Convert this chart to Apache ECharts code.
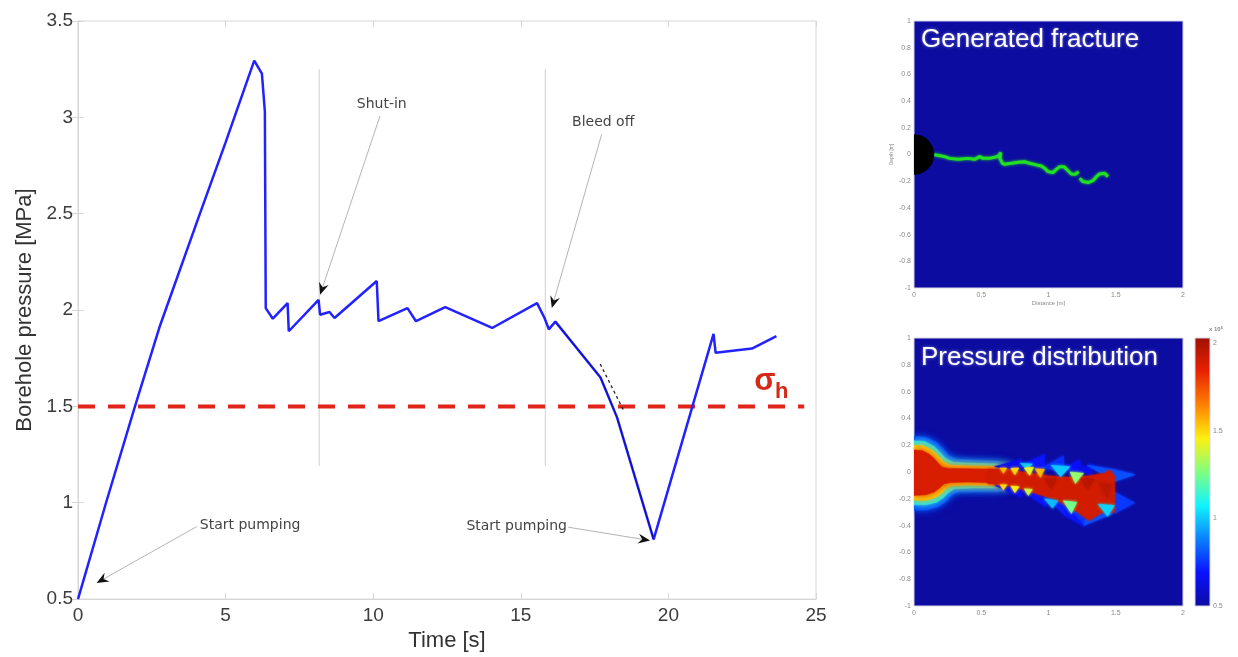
<!DOCTYPE html>
<html><head><meta charset="utf-8">
<script src="https://cdn.jsdelivr.net/npm/echarts/dist/echarts.min.js"></script>
<style>html,body{margin:0;padding:0;background:#fff}#c{width:1238px;height:657px}</style>
</head><body><div id="c"></div>
<script>
// ---------- main chart data ----------
const timeS = [0, 0.95, 1.93, 2.78, 4.13, 5.0, 5.97, 6.23, 6.33, 6.36, 6.6, 7.1, 7.14, 8.15, 8.2, 8.52, 8.69, 10.12, 10.18, 11.16, 11.45, 12.44, 14.03, 15.55, 15.8, 15.95, 16.17, 17.7, 18.26, 19.5, 21.53, 21.6, 22.83, 23.66];
const pressureMPa = [0.5, 1.0, 1.5, 1.92, 2.5, 2.87, 3.294, 3.227, 3.03, 2.01, 1.955, 2.036, 1.89, 2.053, 1.976, 1.99, 1.959, 2.151, 1.942, 2.01, 1.942, 2.015, 1.907, 2.036, 1.96, 1.90, 1.94, 1.65, 1.443, 0.81, 1.876, 1.778, 1.80, 1.865];
const bleedRange = [26, 30];               // indices of the darker bleed-off segment
const sigmaH = 1.5;
const sigmaHSpan = [0, 24.6];
const sigmaLabelPos = [23.27, 1.629];
const tangentT = [17.69, 18.5];
const tangentP = [1.72, 1.474];
const eventTimes = [8.17, 15.83];
const eventSpan = [1.19, 3.25];
const noteLabels = ['Shut-in', 'Bleed off', 'Start pumping', 'Start pumping'];
const noteTextT = [10.29, 17.79, 5.83, 14.86];
const noteTextP = [3.067, 2.976, 0.885, 0.88];
const noteFromT = [10.23, 17.74, 4.02, 16.61];
const noteFromP = [3.007, 2.912, 0.876, 0.873];
const noteToT = [8.2, 16.05, 0.63, 19.38];
const noteToP = [2.079, 2.01, 0.584, 0.804];

// ---------- fracture panel ----------
const fractureAX = [0.15, 0.166, 0.228, 0.265, 0.327, 0.402, 0.451, 0.488, 0.513, 0.563, 0.6, 0.63, 0.645, 0.64, 0.657, 0.674, 0.724, 0.773, 0.823, 0.86, 0.91, 0.947, 0.972, 0.996, 1.033, 1.058, 1.083, 1.115, 1.14, 1.17, 1.2, 1.224];
const fractureAY = [0.0, -0.004, -0.016, -0.029, -0.036, -0.029, -0.036, -0.016, -0.029, -0.029, -0.021, -0.011, 0.014, -0.03, -0.066, -0.073, -0.066, -0.058, -0.054, -0.066, -0.078, -0.086, -0.103, -0.128, -0.136, -0.111, -0.091, -0.091, -0.116, -0.146, -0.148, -0.128];
const fractureBX = [1.232, 1.256, 1.294, 1.33, 1.356, 1.38, 1.418, 1.442];
const fractureBY = [-0.178, -0.203, -0.21, -0.196, -0.166, -0.146, -0.141, -0.166];
const boreholeRadius = 0.15;

// ---------- pressure panel (values in 10^6 Pa) ----------
const smoothShapes = [
  [[0,0.265],[0.09,0.26],[0.17,0.22],[0.22,0.17],[0.26,0.12],[0.32,0.095],[0.45,0.09],[0.62,0.08],[0.72,0.06],[0.72,-0.13],[0.62,-0.145],[0.45,-0.148],[0.32,-0.15],[0.28,-0.175],[0.24,-0.22],[0.18,-0.26],[0.09,-0.285],[0,-0.285]],
  [[0,0.234],[0.08,0.228],[0.15,0.19],[0.2,0.14],[0.24,0.095],[0.3,0.07],[0.45,0.065],[0.62,0.06],[0.72,0.045],[0.72,-0.11],[0.62,-0.12],[0.45,-0.12],[0.3,-0.125],[0.26,-0.15],[0.22,-0.19],[0.17,-0.225],[0.09,-0.245],[0,-0.245]],
  [[0,0.2],[0.07,0.195],[0.13,0.165],[0.18,0.12],[0.22,0.075],[0.27,0.05],[0.4,0.045],[0.62,0.04],[0.72,0.035],[0.72,-0.1],[0.62,-0.1],[0.4,-0.097],[0.28,-0.1],[0.24,-0.12],[0.21,-0.155],[0.16,-0.19],[0.09,-0.21],[0,-0.21]],
  [[0,0.165],[0.06,0.16],[0.11,0.135],[0.15,0.1],[0.18,0.065],[0.21,0.035],[0.26,0.027],[0.4,0.025],[0.62,0.02],[0.72,0.015],[0.72,-0.085],[0.62,-0.08],[0.4,-0.075],[0.27,-0.078],[0.22,-0.09],[0.19,-0.12],[0.15,-0.15],[0.09,-0.17],[0,-0.175]]
];
const smoothValues = [0.78, 1.05, 1.5, 1.88];
const meshShapes = [
  [[0.6,0.04],[0.8,0.095],[0.8,0.01]],
  [[0.78,0.045],[0.97,0.13],[0.97,0.02]],
  [[0.95,0.03],[1.11,0.12],[1.12,0.0]],
  [[1.10,0.02],[1.23,0.09],[1.26,-0.01]],
  [[1.22,0.03],[1.33,0.055],[1.32,-0.03]],
  [[1.29,0.05],[1.49,0.02],[1.64,-0.02]],
  [[1.29,0.05],[1.64,-0.02],[1.49,-0.07]],
  [[1.49,-0.15],[1.64,-0.23],[1.49,-0.31]],
  [[0.6,-0.1],[0.80,-0.19],[0.82,-0.11]],
  [[0.78,-0.12],[0.98,-0.26],[1.0,-0.17]],
  [[0.97,-0.18],[1.13,-0.33],[1.15,-0.22]],
  [[1.12,-0.24],[1.26,-0.40],[1.30,-0.3]],
  [[1.26,-0.40],[1.48,-0.31],[1.30,-0.3]],
  [[1.12,-0.24],[1.13,-0.33],[1.26,-0.40]],
  [[0.55,0.02],[0.7,0.012],[0.85,-0.005],[1.0,-0.03],[1.15,-0.04],[1.3,-0.03],[1.42,-0.01],[1.455,0.015],[1.49,-0.03],[1.49,-0.3],[1.4,-0.3],[1.3,-0.36],[1.22,-0.3],[1.1,-0.23],[1.0,-0.19],[0.85,-0.14],[0.7,-0.1],[0.55,-0.085]],
  [[0.64,0.03],[0.69,0.03],[0.665,-0.01]],
  [[0.72,0.028],[0.78,0.03],[0.75,-0.02]],
  [[0.79,0.065],[0.88,0.06],[0.84,0.02]],
  [[0.82,0.03],[0.89,0.035],[0.86,-0.025]],
  [[0.9,0.025],[0.97,0.02],[0.94,-0.04]],
  [[1.02,0.05],[1.16,0.04],[1.09,-0.035]],
  [[1.16,0.0],[1.26,-0.01],[1.2,-0.085]],
  [[0.97,-0.05],[1.06,-0.05],[1.02,-0.13]],
  [[1.24,-0.05],[1.34,-0.055],[1.29,-0.13]],
  [[1.37,-0.08],[1.47,-0.09],[1.44,-0.2]],
  [[0.64,-0.095],[0.69,-0.095],[0.665,-0.135]],
  [[0.72,-0.105],[0.78,-0.11],[0.75,-0.155]],
  [[0.82,-0.125],[0.88,-0.13],[0.85,-0.175]],
  [[0.97,-0.2],[1.07,-0.215],[1.03,-0.27]],
  [[1.11,-0.215],[1.21,-0.225],[1.17,-0.31]],
  [[1.37,-0.24],[1.49,-0.25],[1.44,-0.33]]
];
const meshValues = [0.66,0.7,0.74,0.68,0.66,0.76,0.8,0.76,0.66,0.7,0.72,0.76,0.8,0.7, 1.9, 1.55,1.5,1.0,1.42,1.55,1.0,1.3,1.96,1.96,1.95,1.5,1.45,1.38,0.98,1.25,1.02];
const colorbarRange = [0.5, 2.03];
const jetColors = ['#0c0ca0','#0a10ff','#0a80ff','#10f4ff','#80ff80','#fff010','#ff8000','#e82200','#a01000'];

const FONT = "'Liberation Sans', Arial, sans-serif";
const chart = echarts.init(document.getElementById('c'));

const mainLabel = {color:'#3c3c3c', fontSize:19, fontFamily:FONT};
const frameLine = {color:'#d6d6d6', width:1};
const smallLabel = {color:'#8a8a8a', fontSize:7, fontFamily:FONT};

function polyItem(shapes, blur) {
  return function (params, api) {
    const pts = shapes[api.value(0)].map(p => api.coord(p));
    const col = api.visual('color');
    return {type:'polygon', shape:{points:pts}, style:{fill:col, stroke:col, lineWidth:0.5, shadowBlur:blur, shadowColor:col}};
  };
}

const option = {
  animation:false,
  backgroundColor:'#ffffff',
  title:[
    {text:'Generated fracture', left:921, top:27, padding:0, textStyle:{color:'#ffffff', fontSize:26, fontWeight:'normal', fontFamily:FONT, textShadowColor:'rgba(255,255,255,0.5)', textShadowBlur:3}},
    {text:'Pressure distribution', left:921, top:345, padding:0, textStyle:{color:'#ffffff', fontSize:26, fontWeight:'normal', fontFamily:FONT, textShadowColor:'rgba(255,255,255,0.5)', textShadowBlur:3}},
    {text:'x 10{s|6}', left:1209, top:326, padding:0, textStyle:{color:'#8a8a8a', fontSize:6, fontFamily:FONT, rich:{s:{fontSize:4, verticalAlign:'top', color:'#8a8a8a'}}}}
  ],
  grid:[
    {left:78, top:21, width:738, height:582, show:true, borderColor:'#d6d6d6', borderWidth:1, backgroundColor:'transparent'},
    {left:914, top:21, width:269, height:267, show:true, borderColor:'#d4d4ec', borderWidth:1, backgroundColor:'#0c0ca0'},
    {left:914, top:338, width:269, height:268, show:true, borderColor:'#d4d4ec', borderWidth:1, backgroundColor:'#0c0ca0'},
    {left:1195, top:338, width:15, height:268, show:false}
  ],
  xAxis:[
    {gridIndex:0, type:'value', min:0, max:25, interval:5, name:'Time [s]', nameLocation:'middle', nameGap:30,
     nameTextStyle:{color:'#333', fontSize:22, fontFamily:FONT},
     axisLine:{lineStyle:frameLine}, axisTick:{inside:true, length:6, lineStyle:frameLine},
     axisLabel:Object.assign({margin:7}, mainLabel), splitLine:{show:false}},
    {gridIndex:0, type:'value', min:0, max:25, interval:5, position:'top',
     axisLine:{show:false}, axisTick:{inside:true, length:6, lineStyle:frameLine}, axisLabel:{show:false}, splitLine:{show:false}},
    {gridIndex:1, type:'value', min:0, max:2, interval:0.5, name:'Distance [m]', nameLocation:'middle', nameGap:12,
     nameTextStyle:{color:'#8a8a8a', fontSize:6, fontFamily:FONT},
     axisLine:{show:false}, axisTick:{show:false}, axisLabel:Object.assign({margin:4}, smallLabel), splitLine:{show:false}},
    {gridIndex:2, type:'value', min:0, max:2, interval:0.5,
     axisLine:{show:false}, axisTick:{show:false}, axisLabel:Object.assign({margin:4}, smallLabel), splitLine:{show:false}},
    {gridIndex:3, type:'value', min:0, max:1, show:false}
  ],
  yAxis:[
    {gridIndex:0, type:'value', min:0.5, max:3.5, interval:0.5, name:'Borehole pressure [MPa]', nameLocation:'middle', nameGap:42,
     nameTextStyle:{color:'#333', fontSize:22, fontFamily:FONT},
     axisLine:{lineStyle:frameLine}, axisTick:{inside:true, length:6, lineStyle:frameLine},
     axisLabel:Object.assign({margin:5}, mainLabel), splitLine:{show:false}},
    {gridIndex:0, type:'value', min:0.5, max:3.5, interval:0.5, position:'right',
     axisLine:{show:false}, axisTick:{inside:true, length:6, lineStyle:frameLine}, axisLabel:{show:false}, splitLine:{show:false}},
    {gridIndex:1, type:'value', min:-1, max:1, interval:0.2, name:'Depth [m]', nameLocation:'middle', nameGap:20,
     nameTextStyle:{color:'#8a8a8a', fontSize:5, fontFamily:FONT},
     axisLine:{show:false}, axisTick:{show:false}, axisLabel:Object.assign({margin:3}, smallLabel), splitLine:{show:false}},
    {gridIndex:2, type:'value', min:-1, max:1, interval:0.2,
     axisLine:{show:false}, axisTick:{show:false}, axisLabel:Object.assign({margin:3}, smallLabel), splitLine:{show:false}},
    {gridIndex:3, type:'value', min:colorbarRange[0], max:colorbarRange[1], interval:0.5, position:'right',
     axisLine:{show:false}, axisTick:{show:false}, axisLabel:Object.assign({margin:3}, smallLabel), splitLine:{show:false}}
  ],
  visualMap:[{type:'continuous', show:false, min:colorbarRange[0], max:colorbarRange[1], dimension:1, seriesIndex:[10,11], inRange:{color:jetColors}}],
  series:[
    // 0 event vertical lines
    {type:'custom', xAxisIndex:0, yAxisIndex:0, z:1, silent:true,
     data:eventTimes.map(t => [t, eventSpan[0], eventSpan[1]]),
     renderItem:(p, api) => {
       const a = api.coord([api.value(0), api.value(1)]), b = api.coord([api.value(0), api.value(2)]);
       return {type:'line', shape:{x1:a[0], y1:a[1], x2:b[0], y2:b[1]}, style:{stroke:'#cfcfcf', lineWidth:1}};
     }},
    // 1 sigma_h dashed line
    {type:'line', xAxisIndex:0, yAxisIndex:0, z:2, showSymbol:false, silent:true,
     data:sigmaHSpan.map(t => [t, sigmaH]),
     lineStyle:{color:'#e0261a', width:4, type:[17,13]}},
    // 2 pressure curve
    {type:'line', xAxisIndex:0, yAxisIndex:0, z:3, showSymbol:false, silent:true,
     data:timeS.map((t,i) => [t, pressureMPa[i]]),
     lineStyle:{color:'#2222ff', width:2.5}},
    // 3 darker bleed-off overlay
    {type:'line', xAxisIndex:0, yAxisIndex:0, z:4, showSymbol:false, silent:true,
     data:timeS.slice(bleedRange[0], bleedRange[1]).map((t,i) => [t, pressureMPa[bleedRange[0]+i]]),
     lineStyle:{color:'#000033', width:1, opacity:0.55}},
    // 4 tangent dashed
    {type:'line', xAxisIndex:0, yAxisIndex:0, z:5, showSymbol:false, silent:true,
     data:tangentT.map((t,i) => [t, tangentP[i]]),
     lineStyle:{color:'#222', width:1.3, type:[3,3]}},
    // 5 annotations
    {type:'custom', xAxisIndex:0, yAxisIndex:0, z:6, silent:true,
     data:noteLabels.map((s,i) => [i]),
     renderItem:(p, api) => {
       const i = api.value(0);
       const f = api.coord([noteFromT[i], noteFromP[i]]), t = api.coord([noteToT[i], noteToP[i]]);
       const dx = t[0]-f[0], dy = t[1]-f[1], L = Math.hypot(dx, dy), ux = dx/L, uy = dy/L, nx = -uy, ny = ux;
       const len = 12, w = 5, notch = 8;
       const b1 = [t[0]-ux*len+nx*w, t[1]-uy*len+ny*w], b2 = [t[0]-ux*len-nx*w, t[1]-uy*len-ny*w], n = [t[0]-ux*notch, t[1]-uy*notch];
       const tp = api.coord([noteTextT[i], noteTextP[i]]);
       return {type:'group', children:[
         {type:'line', shape:{x1:f[0], y1:f[1], x2:n[0], y2:n[1]}, style:{stroke:'#b4b4b4', lineWidth:1}},
         {type:'polygon', shape:{points:[t, b1, n, b2]}, style:{fill:'#111'}},
         {type:'text', x:tp[0], y:tp[1], style:{text:noteLabels[i], fill:'#444', font:"14px 'DejaVu Sans', sans-serif", align:'center', verticalAlign:'middle', textAlign:'center', textVerticalAlign:'middle'}}
       ]};
     }},
    // 6 sigma label
    {type:'custom', xAxisIndex:0, yAxisIndex:0, z:7, silent:true,
     data:[sigmaLabelPos],
     renderItem:(p, api) => {
       const c = api.coord([api.value(0), api.value(1)]);
       return {type:'group', children:[
         {type:'text', x:c[0], y:c[1], style:{text:'σ', fill:'#d42a1a', font:"bold 31px " + FONT, align:'center', verticalAlign:'middle', textAlign:'center', textVerticalAlign:'middle'}},
         {type:'text', x:c[0]+10, y:c[1]+10, style:{text:'h', fill:'#d42a1a', font:"bold 22px " + FONT, align:'left', verticalAlign:'middle', textAlign:'left', textVerticalAlign:'middle'}}
       ]};
     }},
    // 7 fracture piece A
    {type:'line', xAxisIndex:2, yAxisIndex:2, z:3, showSymbol:false, silent:true,
     data:fractureAX.map((x,i) => [x, fractureAY[i]]),
     lineStyle:{color:'#22e022', width:3, shadowBlur:3, shadowColor:'#22e022'}},
    // 8 fracture piece B
    {type:'line', xAxisIndex:2, yAxisIndex:2, z:3, showSymbol:false, silent:true,
     data:fractureBX.map((x,i) => [x, fractureBY[i]]),
     lineStyle:{color:'#22e022', width:3, shadowBlur:3, shadowColor:'#22e022'}},
    // 9 borehole
    {type:'custom', xAxisIndex:2, yAxisIndex:2, z:4, clip:true, silent:true,
     data:[[0, 0, boreholeRadius]],
     renderItem:(p, api) => {
       const c = api.coord([api.value(0), api.value(1)]);
       const r = api.size([api.value(2), 0])[0];
       return {type:'circle', shape:{cx:c[0], cy:c[1], r:r}, style:{fill:'#000'}};
     }},
    // 10 smooth pressure field
    {type:'custom', xAxisIndex:3, yAxisIndex:3, z:2, clip:true, silent:true,
     data:smoothValues.map((v,i) => [i, v]),
     renderItem:polyItem(smoothShapes, 8)},
    // 11 mesh pressure field
    {type:'custom', xAxisIndex:3, yAxisIndex:3, z:3, clip:true, silent:true,
     data:meshValues.map((v,i) => [i, v]),
     renderItem:polyItem(meshShapes, 3)},
    // 12 colorbar
    {type:'custom', xAxisIndex:4, yAxisIndex:4, z:2, silent:true,
     data:[[0, colorbarRange[0], colorbarRange[1]]],
     renderItem:(p, api) => {
       const a = api.coord([0, api.value(2)]), b = api.coord([1, api.value(1)]);
       const stops = jetColors.map((c,i) => ({offset:i/(jetColors.length-1), color:c}));
       return {type:'rect', shape:{x:a[0], y:a[1], width:b[0]-a[0], height:b[1]-a[1]},
               style:{fill:new echarts.graphic.LinearGradient(0,1,0,0,stops), stroke:'#d4d4ec', lineWidth:1}};
     }}
  ]
};
chart.setOption(option);
</script>
</body></html>
